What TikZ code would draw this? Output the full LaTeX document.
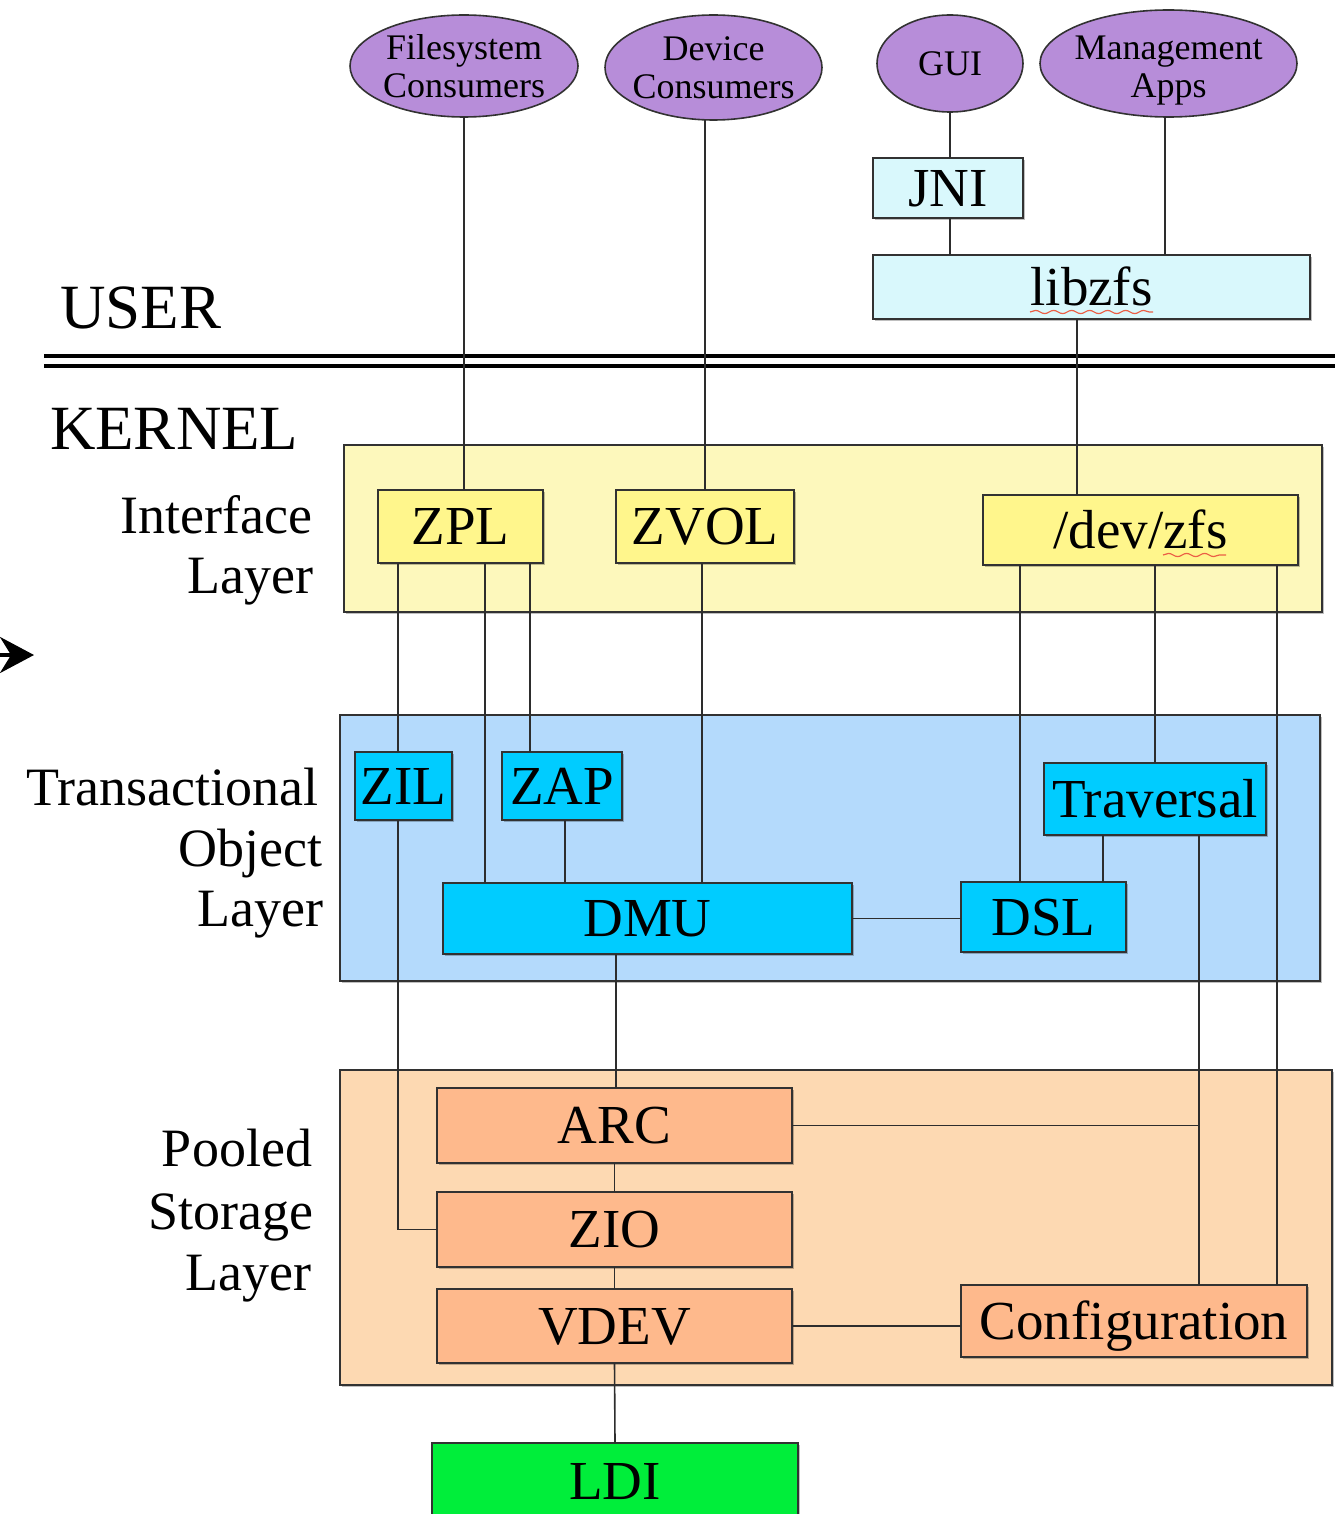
\documentclass[tikz,border=0pt]{standalone}
\usepackage{fontspec}
\setmainfont{Liberation Serif}
\usetikzlibrary{shapes.geometric,arrows.meta,decorations.pathmorphing,shadows}
\definecolor{ellfill}{RGB}{183,141,217}
\definecolor{cyanl}{RGB}{217,248,252}
\definecolor{ylbg}{RGB}{253,248,188}
\definecolor{ylbox}{RGB}{255,246,140}
\definecolor{blbg}{RGB}{180,218,252}
\definecolor{blbox}{RGB}{0,204,255}
\definecolor{orbg}{RGB}{253,217,178}
\definecolor{orbox}{RGB}{254,185,140}
\definecolor{grbox}{RGB}{0,238,58}
\definecolor{bordc}{RGB}{50,50,50}
\definecolor{linec}{RGB}{45,45,45}
\definecolor{squig}{RGB}{235,95,70}
\newcommand\mkbox[7]{\node[#6, minimum width={(#4-(#2))*0.5pt}, minimum height={(#5-(#3))*0.5pt}] (#1) at ({(#2+#4)/2},{(#3+#5)/2}) {#7};}
\begin{document}
\begin{tikzpicture}[x=0.5pt,y=-0.5pt,
  every node/.style={inner sep=0pt, outer sep=0pt},
  edge/.style={draw=linec, line width=0.8pt},
  shad/.style={drop shadow={shadow xshift=0.8pt, shadow yshift=-0.8pt, opacity=0.25, fill=black}},
  ell/.style={ellipse, draw=bordc, line width=0.8pt, fill=ellfill, align=center, inner ysep=-8pt, inner xsep=-4pt, font=\fontsize{18}{19}\selectfont},
  box/.style={rectangle, draw=bordc, line width=0.9pt, shad, font=\fontsize{27.5}{30}\selectfont, text height=18.2pt, text depth=0pt},
  layer/.style={rectangle, draw=bordc, line width=0.9pt, shad},
  lbl/.style={font=\fontsize{27}{30}\selectfont, anchor=base east},
  side/.style={font=\fontsize{31.5}{34}\selectfont, anchor=base west},
  squiggle/.style={draw=squig, line width=0.6pt, decorate, decoration={snake, amplitude=0.8pt, segment length=9pt}},
]
\useasboundingbox (0,0) rectangle (1334,1514);

% layer backgrounds
\mkbox{IL}{344}{445}{1322}{612}{layer, fill=ylbg}{}
\mkbox{TOL}{340}{715}{1320}{981}{layer, fill=blbg}{}
\mkbox{PSL}{340}{1070}{1332}{1385}{layer, fill=orbg}{}

% user / kernel separator
\draw[line width=2.3pt] (44,356) -- (1345,356);
\draw[line width=2.3pt] (44,366) -- (1345,366);
\node[side] (user) at (60,328) {USER};
\node[side] (kernel) at (50,449) {KERNEL};

% layer labels
\node[lbl] (il1) at (312,533) {Interface};
\node[lbl] (il2) at (313,593) {Layer};
\node[lbl] (tl1) at (318,805) {Transactional};
\node[lbl] (tl2) at (322,866) {Object};
\node[lbl] (tl3) at (323,926) {Layer};
\node[lbl] (pl1) at (312,1166) {Pooled};
\node[lbl] (pl2) at (313,1229) {Storage};
\node[lbl] (pl3) at (311,1290) {Layer};

% consumers
\mkbox{FS}{350}{15}{578}{117}{ell}{Filesystem\\Consumers}
\mkbox{DEV}{605}{15}{822}{120}{ell}{Device\\Consumers}
\mkbox{GUI}{877}{15}{1023}{112}{ell}{GUI}
\mkbox{MGT}{1040}{10}{1297}{117}{ell}{\raisebox{-3.5pt}[\height][\depth]{\begin{tabular}{@{}c@{}}Management\\Apps\end{tabular}}}

% user boxes
\mkbox{JNI}{873}{158}{1023}{218}{box, fill=cyanl}{JNI}
\mkbox{LIB}{873}{255}{1310}{319}{box, fill=cyanl}{libzfs}

% interface layer
\mkbox{ZPL}{378}{490}{543}{563}{box, fill=ylbox}{ZPL}
\mkbox{ZVOL}{616}{490}{794}{563}{box, fill=ylbox}{ZVOL}
\mkbox{DEVZ}{983}{495}{1298}{565}{box, fill=ylbox}{/dev/zfs}

% transactional object layer
\mkbox{ZIL}{355}{752}{452}{820}{box, fill=blbox}{ZIL}
\mkbox{ZAP}{502}{752}{622}{820}{box, fill=blbox}{ZAP}
\mkbox{TRV}{1044}{763}{1266}{835}{box, fill=blbox}{Traversal}
\mkbox{DMU}{443}{883}{852}{954}{box, fill=blbox}{DMU}
\mkbox{DSL}{961}{882}{1126}{952}{box, fill=blbox}{DSL}

% pooled storage layer
\mkbox{ARC}{437}{1088}{792}{1163}{box, fill=orbox}{ARC}
\mkbox{ZIO}{437}{1192}{792}{1267}{box, fill=orbox}{ZIO}
\mkbox{VDEV}{437}{1289}{792}{1363}{box, fill=orbox}{VDEV}
\mkbox{CFG}{961}{1285}{1307}{1357}{box, fill=orbox}{Configuration}
\mkbox{LDI}{432}{1443}{798}{1520}{box, fill=grbox}{LDI}

% spell-check squiggles
\draw[squiggle] (1030,312) -- (1153,312);
\draw[squiggle] (1163,555) -- (1226,555);

% x positions of vertical connectors
\coordinate (c398) at (398,0);
\coordinate (c485) at (485,0);
\coordinate (c530) at (530,0);
\coordinate (c565) at (565,0);
\coordinate (c616) at (616,0);
\coordinate (c702) at (702,0);
\coordinate (c1020) at (1020,0);
\coordinate (c1077) at (1077,0);
\coordinate (c1103) at (1103,0);
\coordinate (c1155) at (1155,0);
\coordinate (c1165) at (1165,0);
\coordinate (c1199) at (1199,0);
\coordinate (c1277) at (1277,0);

% connectors
\draw[edge] (FS.south) -- (FS.south |- ZPL.north);
\draw[edge] (DEV.south -| ZVOL.north) -- (ZVOL.north);
\draw[edge] (GUI.south) -- (GUI.south |- JNI.north);
\draw[edge] (GUI.south |- JNI.south) -- (GUI.south |- LIB.north);
\draw[edge] (MGT.south -| c1165) -- (LIB.north -| c1165);
\draw[edge] (LIB.south -| c1077) -- (DEVZ.north -| c1077);
\draw[edge] (ZPL.south -| c398) -- (ZIL.north -| c398);
\draw[edge] (ZIL.south -| c398) -- (ZIO.west -| c398) -- (ZIO.west);
\draw[edge] (ZPL.south -| c485) -- (DMU.north -| c485);
\draw[edge] (ZPL.south -| c530) -- (ZAP.north -| c530);
\draw[edge] (ZAP.south -| c565) -- (DMU.north -| c565);
\draw[edge] (ZVOL.south -| c702) -- (DMU.north -| c702);
\draw[edge] (DEVZ.south -| c1020) -- (DSL.north -| c1020);
\draw[edge] (DEVZ.south -| c1155) -- (TRV.north -| c1155);
\draw[edge] (DEVZ.south -| c1277) -- (CFG.north -| c1277);
\draw[edge] (TRV.south -| c1103) -- (DSL.north -| c1103);
\draw[edge] (TRV.south -| c1199) -- (CFG.north -| c1199);
\draw[edge] (ARC.east) -- (ARC.east -| c1199);
\draw[edge] (DMU.east) -- (DMU.east -| DSL.west);
\draw[edge] (DMU.south -| c616) -- (ARC.north -| c616);
\draw[edge] (ARC.south) -- (ZIO.north);
\draw[edge] (ZIO.south) -- (VDEV.north);
\draw[edge] (VDEV.south) -- (LDI.north);
\draw[edge] (VDEV.east) -- (VDEV.east -| CFG.west);

% partial arrow at left edge
\coordinate (arrS) at (-60,655);
\coordinate (arrE) at (34,655);
\draw[line width=2pt, -{Stealth[length=17pt, width=18pt]}] (arrS) -- (arrE);
\end{tikzpicture}
\end{document}
